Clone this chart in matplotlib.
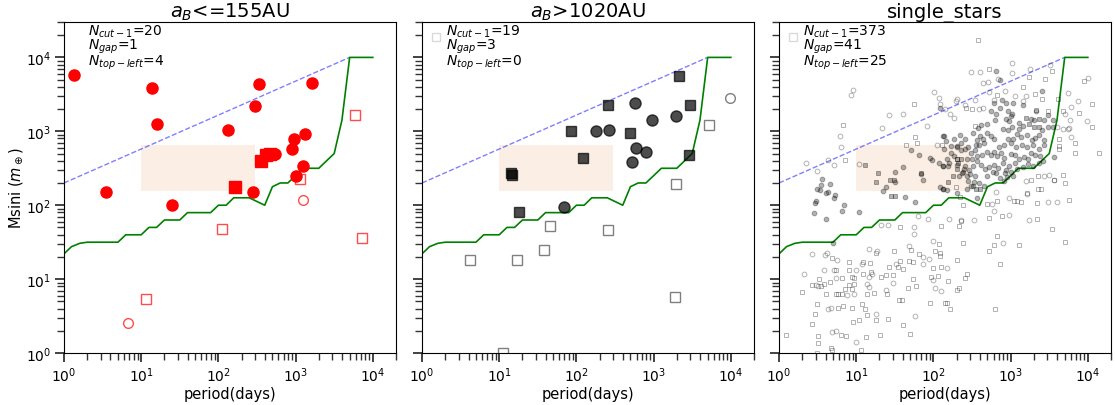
import numpy as np
import matplotlib
matplotlib.use("Agg")
import matplotlib.pyplot as plt
from matplotlib.patches import Rectangle
from matplotlib.ticker import LogLocator, NullFormatter

## ---- detection limit (green) and upper envelope (blue dashed) ---- ##
limit_period = [1, 1.25, 1.6, 2.0, 5.0, 6.3, 10, 12.6, 15.8, 20, 31.6, 39.8, 79.4, 100, 126, 158,
                251, 398, 501, 631, 794, 1000, 1259, 1995, 3162, 3981, 5012, 10000]
limit_msini = [22, 27.5, 30.5, 31.6, 31.6, 39.8, 39.8, 50.1, 50.1, 63.1, 63.1, 79.4, 79.4, 100, 100, 126,
               126, 100, 178, 200, 200, 251, 316, 316, 501, 1413, 10000, 10000]
edge_period = [1, 5000]
edge_msini = [200, 10000]

# shaded box (period range, msini range)
box_period = [10, 300]
box_msini = [155, 650]

## ---- panel 1 : a_B <= 155 AU ---- ##
p1_fc_P = [1.33, 13.6, 15.9, 3.47, 24.7, 134, 339, 297, 283, 953, 898, 1313, 1260, 1023, 1633, 536]
p1_fc_M = [5710, 3890, 1244, 151, 101, 1050, 4315, 2180, 151, 796, 571, 930, 340, 249, 4453, 493]
p1_fs_P = [162, 353, 413, 466]
p1_fs_M = [175, 393, 474, 500]
p1_os_P = [5960, 7340, 111, 11.6, 1150]
p1_os_M = [1660, 35.8, 47.4, 5.37, 229]
p1_oc_P = [6.77, 1233]
p1_oc_M = [2.54, 119]

## ---- panel 2 : a_B > 1020 AU ---- ##
p2_fs_P = [2130, 254, 2990, 84.9, 501, 120, 14.4, 14.6, 18.2, 2870]
p2_fs_M = [5540, 2270, 2270, 1000, 940, 431, 270, 254, 82, 474]
p2_fc_P = [570, 956, 1928, 181, 262, 588, 793, 532, 70]
p2_fc_M = [2415, 1422, 1610, 1000, 1032, 602, 527, 385, 94]
p2_os_P = [5220, 1946, 259, 44.8, 37.8, 4.17, 17.2, 1890, 11.2]
p2_os_M = [1205, 196, 45.5, 53, 24.9, 18.2, 17.9, 5.77, 1.0]
p2_oc_P = [9900]
p2_oc_M = [2820]

## ---- panel 3 : single stars (log10 period, log10 msini as read) ---- ##
p3_oc_logP = [0.96, 0.934, 1.427, 1.6, 1.33, 0.791, 0.804, 0.713, 0.636, 0.35, 0.497, 1.038, 1.92, 2.05, 2.006,
              2.075, 2.09, 1.323, 1.405, 1.75, 1.75, 1.8, 1.93, 2.0, 0.424, 0.597, 0.623, 0.757, 1.159, 1.271,
              1.686, 1.859, 1.946, 1.86, 1.52, 1.072, 0.994, 0.588, 0.709, 0.32, 1.21, 1.159, 0.735, 1.997,
              2.023, 2.1, 0.475, 0.5, 1.14, 1.165, 0.882, 0.977, 1.383, 1.47, 0.64, 0.674, 1.262, 1.764, 0.692,
              0.744, 0.994, 2.205, 2.36, 2.52, 2.18, 2.815, 2.764, 2.79, 2.983, 2.983, 3.21, 3.238, 3.489, 3.6,
              2.902, 3.022, 2.49, 2.603, 3.022, 3.251, 3.511, 2.83, 2.642, 2.706, 2.724, 2.923, 3.052, 3.165,
              3.2, 2.78, 2.535, 2.594, 2.637, 2.412, 2.29, 2.31, 2.144, 2.213, 2.265, 4.0, 3.744, 3.875, 3.78,
              3.709, 3.769, 3.986, 3.761, 3.74, 3.78, 3.5, 3.43, 3.562, 3.2, 3.606, 3.675]
p3_oc_logM = [3.563, 3.49, 3.225, 3.234, 3.04, 2.94, 2.79, 2.54, 2.617, 2.577, 2.46, 2.554, 3.07, 2.81, 3.527,
              3.446, 3.374, 1.73, 1.73, 1.70, 1.617, 1.856, 1.81, 1.52, 1.338, 1.33, 1.35, 1.261, 1.405, 1.387,
              1.446, 1.297, 1.275, 1.198, 1.2, 1.207, 1.126, 1.117, 1.117, 1.063, 1.072, 1.027, 1.018, 0.982,
              0.883, 0.838, 0.92, 0.91, 0.93, 0.89, 0.784, 0.802, 0.847, 0.946, 0.6, 0.613, 0.532, 0.5, 0.279,
              0.297, 0.144, 1.815, 1.80, 1.797, 1.153, 2.18, 2.018, 1.928, 1.874, 2.099, 2.15, 1.797, 2.05, 2.05,
              1.495, 3.928, 3.806, 3.802, 3.793, 3.838, 3.9, 3.71, 3.653, 3.667, 3.532, 3.54, 3.477, 3.41,
              3.477, 3.419, 3.423, 3.306, 3.31, 3.351, 3.414, 3.44, 3.297, 3.234, 3.18, 3.72, 3.518, 3.414, 3.329,
              3.234, 3.158, 3.144, 3.045, 3.03, 2.928, 2.41, 2.396, 2.338, 2.324, 3.063, 3.027]
p3_os_logP = [0.83, 0.856, 1.764, 1.79, 1.65, 1.75, 2.11, 1.565, 2.1, 2.075, 2.015, 2.08, 2.08, 0.683, 0.9,
              1.254, 1.487, 1.703, 1.807, 1.565, 1.686, 1.73, 1.989, 2.093, 1.535, 1.608, 1.427, 1.478, 1.383,
              1.09, 1.176, 0.735, 0.9, 1.081, 1.185, 1.323, 0.519, 0.82, 0.942, 0.977, 0.657, 1.73, 1.772, 1.67,
              1.97, 2.058, 2.153, 1.954, 0.432, 0.545, 0.588, 0.977, 0.942, 0.9, 0.85, 0.735, 0.77, 0.82, 1.133,
              1.236, 1.392, 0.605, 0.294, 0.497, 0.761, 0.83, 0.95, 1.072, 1.107, 0.467, 1.133, 1.254, 1.038,
              0.96, 1.409, 1.556, 1.59, 1.608, 0.432, 0.095, 0.804, 0.865, 0.51, 0.51, 1.124, 1.306, 1.695,
              0.674, 0.683, 1.064, 0.493, 2.378, 2.36, 2.335, 2.387, 2.3, 2.192, 2.413, 2.438, 2.335, 2.3, 2.17,
              2.214, 2.819, 2.7, 2.724, 2.888, 3.04, 3.087, 3.134, 3.216, 3.346, 3.342, 3.753, 3.536, 3.701,
              2.828, 2.78, 2.724, 3.113, 2.862, 2.8, 3.36, 3.39, 2.343, 2.581, 2.724, 3.234, 3.541, 3.446, 3.156,
              3.312, 2.828, 2.42, 2.5, 3.4, 3.614, 3.95, 4.06, 3.684, 3.891, 4.056, 3.831, 4.143, 3.831, 3.623,
              3.623, 3.684, 3.7, 3.562, 3.358, 3.269, 2.535, 2.3, 3.623, 3.33, 3.48, 2.29]
p3_os_logM = [3.086, 2.61, 2.923, 2.847, 2.82, 3.37, 2.82, 1.703, 1.716, 1.48, 1.387, 1.347, 1.31, 1.288, 1.23,
              1.351, 1.378, 1.396, 1.342, 1.252, 1.243, 1.23, 1.153, 1.162, 1.162, 1.14, 1.162, 1.059, 1.059,
              1.23, 1.216, 1.126, 1.126, 1.063, 1.09, 1.027, 1.0, 1.018, 1.027, 1.018, 0.964, 1.005, 0.905, 0.883,
              1.027, 1.036, 0.676, 0.676, 0.914, 0.91, 0.928, 0.932, 0.869, 0.92, 0.87, 0.802, 0.802, 0.793,
              0.802, 0.811, 0.802, 0.793, 0.829, 0.667, 0.613, 0.635, 0.613, 0.658, 0.6, 0.523, 0.509, 0.441,
              0.441, 0.419, 0.455, 0.72, 0.712, 0.374, 0.396, 0.248, 0.248, 0.23, 0.225, 0.135, 0.212, 0.239,
              0.261, 0.063, 0.045, 0.041, 0.005, 2.009, 1.78, 1.725, 1.486, 1.257, 0.968, 1.018, 1.068, 0.883,
              0.856, 0.676, 0.59, 2.054, 2.018, 1.829, 1.851, 2.054, 2.054, 2.04, 2.16, 2.03, 1.81, 2.077, 1.68,
              1.509, 1.577, 1.455, 1.374, 1.46, 1.198, 0.59, 2.225, 2.225, 2.108, 4.239, 3.838, 3.739, 3.82,
              3.712, 3.595, 3.5, 3.495, 3.32, 3.297, 3.432, 3.432, 3.676, 3.374, 3.27, 3.243, 3.063, 2.838, 2.712,
              2.712, 2.757, 2.8, 2.414, 2.306, 2.338, 2.396, 2.338, 3.072, 2.622, 2.9, 3.29, 3.28, 2.24]
p3_fc_logP = [1.712, 1.807, 1.954, 1.98, 2.075, 2.09, 2.127, 1.496, 1.608, 1.837, 1.383, 1.505, 1.86, 2.08,
              2.12, 0.553, 0.657, 0.545, 0.493, 0.527, 0.614, 0.64, 0.726, 0.709, 0.476, 0.467, 0.847, 0.813,
              0.458, 0.605, 1.042, 0.7, 1.349, 1.626, 1.764, 2.118, 2.56, 2.31, 2.17, 2.81, 2.86, 3.403, 2.888,
              3.156, 3.325, 3.26, 3.307, 3.433, 3.406, 3.484, 3.554, 3.156, 3.113, 3.104, 3.018, 3.0, 2.983, 2.94,
              2.97, 3.02, 3.03, 2.94, 2.784, 2.862, 2.741, 2.815, 2.793, 2.697, 2.62, 2.577, 2.517, 2.897, 2.966,
              3.087, 3.13, 3.208, 3.277, 3.312, 3.373, 3.433, 3.433, 3.364, 3.294, 3.216, 3.07, 3.147, 3.0, 2.96,
              3.035, 2.914, 2.853, 2.784, 2.741, 2.698, 2.646, 2.603, 2.56, 2.655, 2.594, 2.551, 2.542, 2.482,
              2.447, 2.404, 2.352, 2.309, 2.265, 2.343, 2.404, 2.5, 2.56, 2.63, 2.69, 2.741, 2.784, 2.827, 2.879,
              2.914, 3.0, 3.061, 3.113, 3.174, 3.225, 3.269, 3.32, 3.381, 2.568, 2.62, 2.516, 2.464, 2.672, 2.724,
              2.784, 2.836, 2.905, 2.94, 2.983, 3.053, 3.087, 2.93, 2.957, 2.914, 2.862, 2.81, 2.767, 2.698, 3.0,
              3.026, 2.438, 2.404, 2.378, 2.335, 2.43, 2.533, 2.525, 2.585, 2.482, 2.655, 2.188, 2.17, 2.222,
              2.136, 3.225, 3.156, 3.294, 3.364, 3.424, 3.554, 3.484, 3.562, 2.136, 2.162, 2.222, 2.3, 2.36,
              2.265, 2.196, 2.127, 2.309, 2.37, 2.473, 2.447, 2.516, 2.43, 2.395, 2.127]
p3_fc_logM = [2.752, 2.676, 2.64, 2.608, 2.577, 3.32, 2.94, 2.45, 2.518, 2.42, 2.248, 2.31, 2.338, 2.25, 2.53,
              2.36, 2.29, 2.27, 2.22, 2.207, 2.16, 2.175, 2.135, 2.10, 2.063, 2.027, 2.0, 1.928, 1.896, 1.82,
              1.914, 1.495, 2.19, 2.108, 2.045, 2.22, 2.099, 2.162, 2.2, 3.815, 3.69, 3.54, 3.423, 3.356, 3.279,
              3.16, 3.158, 3.158, 3.018, 3.059, 3.054, 3.072, 3.036, 3.108, 3.063, 3.207, 3.144, 3.171, 3.27,
              3.23, 3.387, 3.387, 3.387, 3.31, 3.27, 3.239, 3.149, 3.1, 3.081, 3.041, 2.982, 3.027, 3.018, 2.964,
              2.928, 2.946, 2.883, 2.91, 2.946, 2.883, 2.81, 2.757, 2.82, 2.784, 2.784, 2.82, 2.847, 2.89, 2.9,
              2.82, 2.784, 2.89, 2.937, 2.973, 2.9, 2.937, 2.883, 2.838, 2.81, 2.81, 2.748, 2.712, 2.784, 2.757,
              2.838, 2.793, 2.9, 2.955, 2.892, 2.63, 2.667, 2.676, 2.72, 2.676, 2.72, 2.667, 2.703, 2.644, 2.69,
              2.676, 2.622, 2.658, 2.622, 2.703, 2.676, 2.667, 2.595, 2.55, 2.532, 2.477, 2.486, 2.523, 2.54,
              2.505, 2.577, 2.477, 2.532, 2.568, 2.486, 2.432, 2.387, 2.329, 2.37, 2.432, 2.45, 2.396, 2.45,
              2.396, 2.622, 2.532, 2.45, 2.396, 2.396, 2.396, 2.315, 2.297, 2.261, 2.261, 2.532, 2.63, 2.712,
              2.757, 2.559, 2.514, 2.532, 2.577, 2.604, 3.153, 3.225, 2.658, 2.937, 2.87, 2.8, 2.8, 2.75, 2.667,
              2.577, 2.53, 2.54, 2.43, 2.423, 2.324, 2.26, 2.216, 2.495, 2.216]
p3_fs_logP = [1.107, 1.288, 1.833, 1.435, 1.483, 1.258, 1.453, 1.5, 2.55, 2.6, 3.2, 3.373, 3.373, 3.304, 3.243,
              2.352, 2.317, 2.3, 2.188, 2.248, 2.31]
p3_fs_logM = [2.55, 2.437, 2.43, 2.34, 2.34, 2.32, 2.13, 2.13, 2.216, 2.216, 3.18, 3.063, 3.171, 3.054, 3.095,
              2.622, 2.568, 2.495, 2.315, 2.396, 2.62]

titles = ["$a_B$<=155AU", "$a_B$>1020AU", "single_stars"]
n_cut = [20, 19, 373]
n_gap = [1, 3, 41]
n_topleft = [4, 0, 25]

## ---- figure ---- ##
fig = plt.figure(figsize=(11.15, 4.06), dpi=100)
lefts = [0.0574, 0.3785, 0.6987]
axes = [fig.add_axes([l, 0.128, 0.2978, 0.815]) for l in lefts]

def base(ax, i):
    ax.add_patch(Rectangle((box_period[0], box_msini[0]), box_period[1] - box_period[0],
                           box_msini[1] - box_msini[0], facecolor="#faeee5", edgecolor="none", zorder=0))
    ax.plot(edge_period, edge_msini, color="blue", alpha=0.5, ls="--", lw=1, zorder=1)
    ax.plot(limit_period, limit_msini, color="green", lw=1.2, zorder=2)
    ax.set_xscale("log")
    ax.set_yscale("log")
    ax.set_xlim(1, 2e4)
    ax.set_ylim(1, 3e4)
    for a in (ax.xaxis, ax.yaxis):
        a.set_minor_locator(LogLocator(base=10, subs=np.arange(2, 10), numticks=20))
        a.set_minor_formatter(NullFormatter())
    ax.set_title(titles[i], fontsize=14, pad=4)
    ax.set_xlabel("period(days)", fontsize=10.5, labelpad=1)
    ax.tick_params(which="major", direction="out", length=6.5, width=1.2, pad=2.5,
                   labelsize=10, color="#222222")
    ax.tick_params(which="minor", direction="out", length=5, width=1.0, color="#333333")
    if i > 0:
        ax.tick_params(axis="y", labelleft=False)
    # legend-like annotation block
    ax.plot([0.043], [0.954], "s", mfc="none", mec="k", alpha=0.0 if i == 0 else 0.15,
            ms=6, transform=ax.transAxes, clip_on=False)
    lines = [f"$N_{{cut-1}}$={n_cut[i]}", f"$N_{{gap}}$={n_gap[i]}", f"$N_{{top-left}}$={n_topleft[i]}"]
    for txt, yy in zip(lines, [0.9637, 0.919, 0.872]):
        ax.text(0.071, yy, txt, transform=ax.transAxes, fontsize=10, va="baseline", ha="left")

for i, ax in enumerate(axes):
    base(ax, i)

# panel 1
ax = axes[0]
ax.plot(p1_fc_P, p1_fc_M, "o", color="red", ms=8, ls="none", zorder=3)
ax.plot(p1_fs_P, p1_fs_M, "s", color="red", ms=8, ls="none", zorder=3)
ax.plot(p1_os_P, p1_os_M, "s", mfc="none", mec="red", alpha=0.7, ms=7, ls="none", zorder=3)
ax.plot(p1_oc_P, p1_oc_M, "o", mfc="none", mec="red", alpha=0.7, ms=7, ls="none", zorder=3)
ax.set_ylabel("Msini ($m_\\oplus$)", fontsize=10.5, labelpad=1)

# panel 2
ax = axes[1]
ax.plot(p2_fc_P, p2_fc_M, "o", color="k", alpha=0.7, ms=8, ls="none", zorder=3)
ax.plot(p2_fs_P, p2_fs_M, "s", color="k", alpha=0.7, ms=7, ls="none", zorder=3)
ax.plot(p2_os_P, p2_os_M, "s", mfc="none", mec="k", alpha=0.5, ms=7, ls="none", zorder=3)
ax.plot(p2_oc_P, p2_oc_M, "o", mfc="none", mec="k", alpha=0.5, ms=7, ls="none", zorder=3)

# panel 3
ax = axes[2]
ax.plot(10 ** np.array(p3_oc_logP), 10 ** np.array(p3_oc_logM), "o", mfc="none", mec="k",
        alpha=0.3, ms=3.4, mew=0.7, ls="none", zorder=3)
ax.plot(10 ** np.array(p3_os_logP), 10 ** np.array(p3_os_logM), "s", mfc="none", mec="k",
        alpha=0.3, ms=3.2, mew=0.7, ls="none", zorder=3)
ax.plot(10 ** np.array(p3_fc_logP), 10 ** np.array(p3_fc_logM), "o", color="k",
        alpha=0.3, ms=3.4, mew=0.7, ls="none", zorder=3)
ax.plot(10 ** np.array(p3_fs_logP), 10 ** np.array(p3_fs_logM), "s", color="k",
        alpha=0.3, ms=3.2, mew=0.7, ls="none", zorder=3)

fig.savefig("out.png", dpi=100)
